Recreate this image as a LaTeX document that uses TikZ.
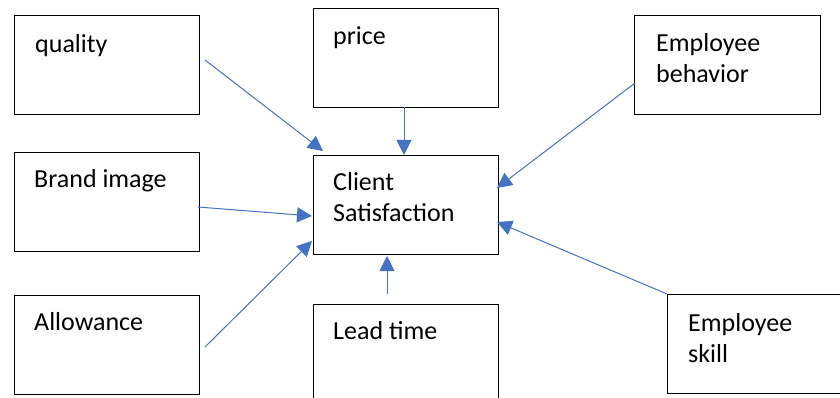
\documentclass[tikz,border=0pt]{standalone}
\usepackage{fontspec}
\setmainfont{Carlito}
\usetikzlibrary{arrows.meta}
\definecolor{arrblue}{HTML}{4472C4}
\begin{document}
\begin{tikzpicture}[x=1pt,y=-1pt,
  box/.style={draw=black,line width=1pt,rectangle,inner sep=0pt,anchor=north west},
  lbl/.style={anchor=base west,inner sep=0pt,font=\fontsize{26}{31}\selectfont,align=left},
  arr/.style={draw=arrblue,line width=1pt,-{Triangle[length=15pt,width=15pt]}}]
\useasboundingbox (0,0) rectangle (840,398);
\clip (0,0) rectangle (840,398);
\fill[white] (0,0) rectangle (840,398);
% boxes
\node[box,minimum width=185pt,minimum height=99pt] (q) at (13.5,15.5) {};
\node[box,minimum width=185pt,minimum height=99pt] (p) at (312.5,8.5) {};
\node[box,minimum width=186pt,minimum height=99pt] (eb) at (634,15.5) {};
\node[box,minimum width=185pt,minimum height=99pt] (b) at (13.5,152) {};
\node[box,minimum width=185pt,minimum height=99pt] (c) at (312.5,155) {};
\node[box,minimum width=185pt,minimum height=99pt] (a) at (13.5,294.5) {};
\node[box,minimum width=185pt,minimum height=110pt] (l) at (312.5,304) {};
\node[box,minimum width=185pt,minimum height=99pt] (es) at (667,294) {};
% labels (multi-line labels anchored at the baseline of their last line)
\node[lbl] (tq) at (35,53) {quality};
\node[lbl] (tp) at (333,45) {price};
\node[lbl] (teb) at (656,83) {Employee\\behavior};
\node[lbl] (tb) at (34,188) {Brand image};
\node[lbl] (tc) at (333,222) {Client\\Satisfaction};
\node[lbl] (ta) at (34,330) {Allowance};
\node[lbl] (tl) at (333,339) {Lead time};
\node[lbl] (tes) at (688,362) {Employee\\skill};
% connector endpoints
\coordinate (q1) at (205,60);   \coordinate (q2) at (323,151);
\coordinate (p1) at (404,107);  \coordinate (p2) at (404,155);
\coordinate (eb1) at (635,83);  \coordinate (eb2) at (497,188);
\coordinate (b1) at (198,207);  \coordinate (b2) at (312,216);
\coordinate (a1) at (205,347);  \coordinate (a2) at (312,241);
\coordinate (l1) at (387,294);  \coordinate (l2) at (387,256);
\coordinate (es1) at (667,294); \coordinate (es2) at (497,222);
\draw[arr] (q1) -- (q2);
\draw[arr] (p1) -- (p2);
\draw[arr] (eb1) -- (eb2);
\draw[arr] (b1) -- (b2);
\draw[arr] (a1) -- (a2);
\draw[arr] (l1) -- (l2);
\draw[arr] (es1) -- (es2);
\end{tikzpicture}
\end{document}
